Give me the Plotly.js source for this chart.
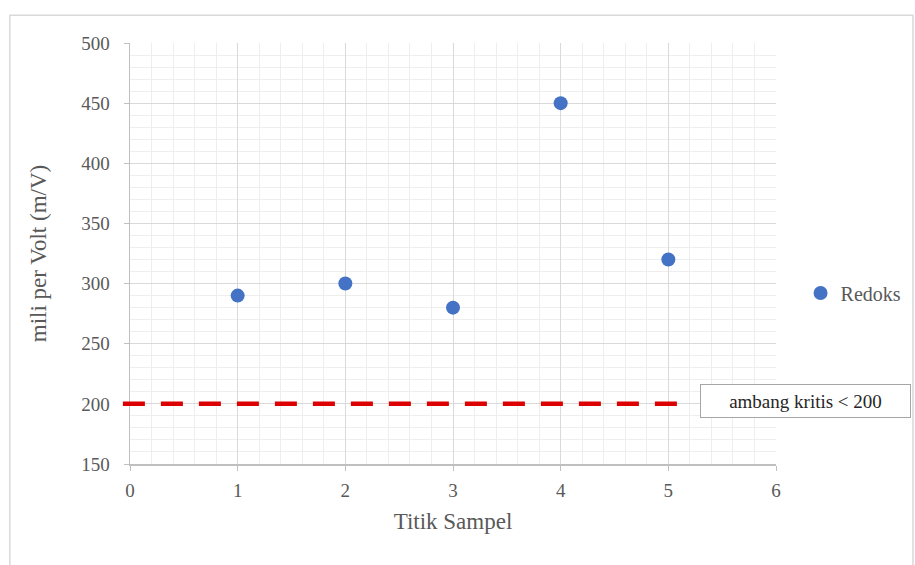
<!DOCTYPE html>
<html>
<head>
<meta charset="utf-8">
<script src="https://cdn.plot.ly/plotly-3.0.1.min.js"></script>
<style>html,body{margin:0;padding:0;background:#fff}#chart{width:915px;height:565px}</style>
</head>
<body>
<div id="chart"></div>
<script>
const samplePoints = [1, 2, 3, 4, 5];
const redoxValues = [290, 300, 280, 450, 320];
const seriesName = "Redoks";
const thresholdValue = 200;
const thresholdLabel = "ambang kritis < 200";
const xTitle = "Titik Sampel";
const yTitle = "mili per Volt (m/V)";

const serif = "Liberation Serif";
const data = [{
  x: samplePoints, y: redoxValues, name: seriesName,
  type: "scatter", mode: "markers",
  marker: {color: "#4472C4", size: 14},
  showlegend: true
}];
const layout = {
  width: 915, height: 565,
  margin: {l: 130, r: 139, t: 43, b: 101, autoexpand: false},
  paper_bgcolor: "#fff", plot_bgcolor: "#fff",
  font: {family: serif, color: "#595959", size: 16},
  xaxis: {
    range: [0, 6], dtick: 1, tick0: 0,
    showgrid: true, gridcolor: "#d9d9d9", gridwidth: 1,
    minor: {dtick: 0.2, showgrid: true, gridcolor: "#eeeeee", gridwidth: 1},
    showline: true, linecolor: "#bfbfbf", linewidth: 1.5,
    ticks: "outside", ticklen: 5, tickcolor: "#bfbfbf",
    zeroline: false,
    tickfont: {family: serif, size: 19, color: "#595959"},
    ticklabelstandoff: 4,
    title: {text: xTitle, font: {family: serif, size: 23, color: "#595959"}, standoff: 12}
  },
  yaxis: {
    range: [150, 500], dtick: 50, tick0: 150,
    showgrid: true, gridcolor: "#d9d9d9", gridwidth: 1,
    minor: {dtick: 10, showgrid: true, gridcolor: "#eeeeee", gridwidth: 1},
    showline: true, linecolor: "#bfbfbf", linewidth: 1.5,
    ticks: "outside", ticklen: 5, tickcolor: "#bfbfbf",
    zeroline: false,
    tickfont: {family: serif, size: 19, color: "#595959"},
    ticklabelstandoff: 10,
    title: {text: yTitle, font: {family: serif, size: 23, color: "#595959"}, standoff: 28}
  },
  legend: {
    x: 1.038, y: 0.406, xanchor: "left", yanchor: "middle",
    font: {family: serif, size: 20, color: "#595959"},
    itemwidth: 30, bgcolor: "rgba(0,0,0,0)"
  },
  shapes: [
    {type: "rect", xref: "paper", yref: "paper",
     x0: -0.186, x1: 1.212, y0: -0.3, y1: 1.066,
     line: {color: "#d9d9d9", width: 1.5}, fillcolor: "rgba(0,0,0,0)", layer: "below"},
    {type: "line", xref: "paper", yref: "y",
     x0: -0.011, x1: 0.854, y0: thresholdValue, y1: thresholdValue,
     line: {color: "#DC0000", width: 4.5, dash: "22px,16px"}, layer: "above"}
  ],
  annotations: [{
    xref: "paper", yref: "paper", x: 1.046, y: 0.15,
    xanchor: "center", yanchor: "middle",
    text: thresholdLabel, showarrow: false,
    font: {family: serif, size: 19, color: "#262626"},
    bordercolor: "#a6a6a6", borderwidth: 1, bgcolor: "#fff",
    width: 207, height: 30, align: "center"
  }]
};
Plotly.newPlot("chart", data, layout, {displayModeBar: false, staticPlot: true});
</script>
</body>
</html>
